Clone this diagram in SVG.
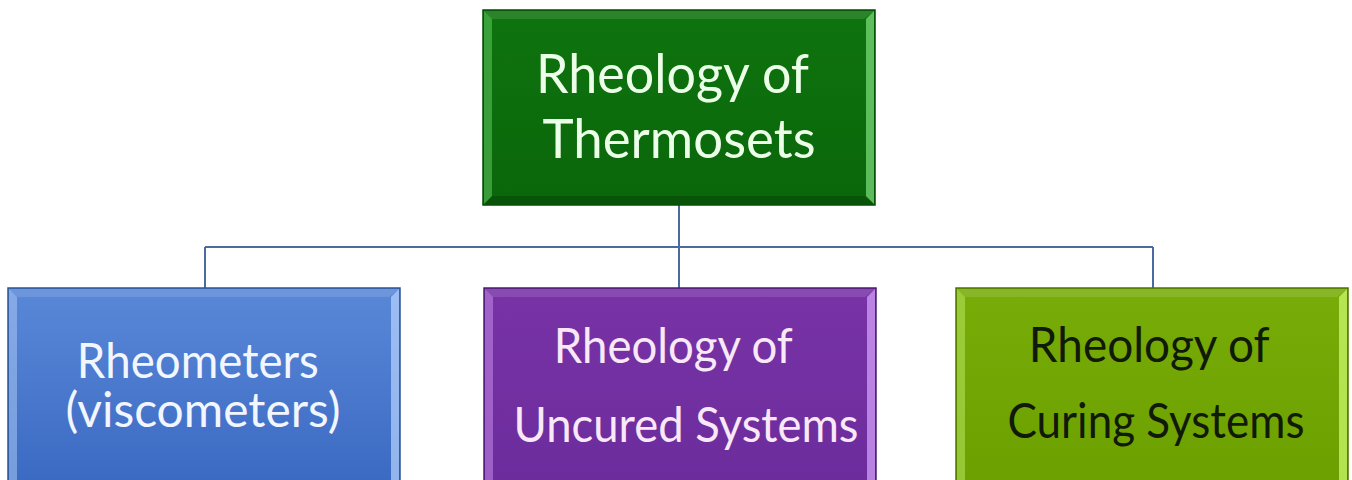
<svg xmlns="http://www.w3.org/2000/svg" width="1352" height="480" viewBox="0 0 1352 480">
  <defs>
    <linearGradient id="gGreen" x1="0" y1="0" x2="0" y2="1">
      <stop offset="0" stop-color="#0e740e"/>
      <stop offset="1" stop-color="#0a660a"/>
    </linearGradient>
    <linearGradient id="gBlue" x1="0" y1="0" x2="0" y2="1">
      <stop offset="0" stop-color="#5a88d8"/>
      <stop offset="1" stop-color="#3a69c2"/>
    </linearGradient>
    <linearGradient id="gPurple" x1="0" y1="0" x2="0" y2="1">
      <stop offset="0" stop-color="#7833a6"/>
      <stop offset="1" stop-color="#6c2c9c"/>
    </linearGradient>
    <linearGradient id="gLime" x1="0" y1="0" x2="0" y2="1">
      <stop offset="0" stop-color="#78ac08"/>
      <stop offset="1" stop-color="#6ca000"/>
    </linearGradient>
  </defs>
  <style>
    .box { stroke-width: 1.5; }
    .bevL { opacity: 0.55; }
    .bevR { opacity: 0.7; }
    .bevT { fill: #ffffff; opacity: 0.12; }
    .bevB { fill: #000000; opacity: 0.18; }
    .lbl { font-family: Lato, "Open Sans", "Liberation Sans", sans-serif; text-anchor: middle; }
    .conn { fill: none; stroke: #4a6aa0; stroke-width: 2; }
  </style>
  <rect width="1352" height="480" fill="#ffffff"/>

  <g id="connectors">
    <path class="conn" d="M679 205 V288"/>
    <path class="conn" d="M205 247 H1153"/>
    <path class="conn" d="M205 247 V288"/>
    <path class="conn" d="M1153 247 V288"/>
  </g>

  <g id="node-root">
    <rect class="box" x="483" y="10" width="392" height="195" fill="url(#gGreen)" stroke="#074a07"/>
    <polygon class="bevT" points="484,11 874,11 864,19 492,19"/>
    <polygon class="bevB" points="484,204 874,204 864,196 492,196"/>
    <polygon class="bevL" points="484,11 492,19 492,196 484,204" fill="#5fc85f"/>
    <polygon class="bevR" points="874,11 866,19 866,196 874,204" fill="#7fe07f"/>
    <text class="lbl" font-size="54" fill="#ecffe8">
      <tspan x="679" y="93" textLength="272" lengthAdjust="spacingAndGlyphs">Rheology of</tspan>
      <tspan x="679" y="158" textLength="273" lengthAdjust="spacingAndGlyphs">Thermosets</tspan>
    </text>
  </g>

  <g id="node-rheometers">
    <rect class="box" x="8" y="288" width="392" height="200" fill="url(#gBlue)" stroke="#2e5596"/>
    <polygon class="bevT" points="9,289 399,289 389,297 17,297"/>
    <polygon class="bevL" points="9,289 17,297 17,488 9,488" fill="#a9c6f2"/>
    <polygon class="bevR" points="399,289 391,297 391,488 399,488" fill="#b8d4ff"/>
    <text class="lbl" font-size="48" fill="#f2f6ff">
      <tspan x="204" y="378" textLength="242" lengthAdjust="spacingAndGlyphs">Rheometers</tspan>
      <tspan x="203" y="427" textLength="275" lengthAdjust="spacingAndGlyphs">(viscometers)</tspan>
    </text>
  </g>

  <g id="node-uncured">
    <rect class="box" x="484" y="288" width="392" height="200" fill="url(#gPurple)" stroke="#4e1d74"/>
    <polygon class="bevT" points="485,289 875,289 865,297 493,297"/>
    <polygon class="bevL" points="485,289 493,297 493,488 485,488" fill="#c58ae8"/>
    <polygon class="bevR" points="875,289 867,297 867,488 875,488" fill="#d9a6ff"/>
    <text class="lbl" font-size="48" fill="#f8e8f8">
      <tspan x="679" y="363" textLength="238" lengthAdjust="spacingAndGlyphs">Rheology of</tspan>
      <tspan x="686" y="442" textLength="345" lengthAdjust="spacingAndGlyphs">Uncured Systems</tspan>
    </text>
  </g>

  <g id="node-curing">
    <rect class="box" x="956" y="288" width="392" height="200" fill="url(#gLime)" stroke="#4e7500"/>
    <polygon class="bevT" points="957,289 1347,289 1337,297 965,297"/>
    <polygon class="bevL" points="957,289 965,297 965,488 957,488" fill="#b8e860"/>
    <polygon class="bevR" points="1347,289 1339,297 1339,488 1347,488" fill="#d0ff70"/>
    <text class="lbl" font-size="48" fill="#111a08">
      <tspan x="1155" y="362" textLength="240" lengthAdjust="spacingAndGlyphs">Rheology of</tspan>
      <tspan x="1156" y="438" textLength="297" lengthAdjust="spacingAndGlyphs">Curing Systems</tspan>
    </text>
  </g>
</svg>
